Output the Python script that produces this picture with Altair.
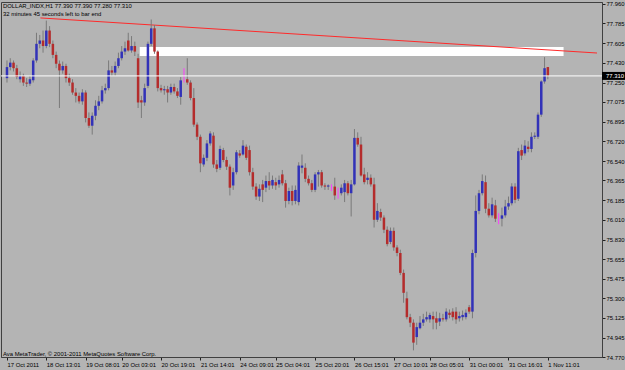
import json
import altair as alt
import pandas as pd

# ---- candle data (DOLLAR_INDX, H1) ----
OPEN = [77.29, 77.39, 77.43, 77.38, 77.28, 77.31, 77.25, 77.24, 77.27, 77.45,
        77.60, 77.63, 77.58, 77.72, 77.60, 77.50, 77.42, 77.36, 77.40, 77.29,
        77.25, 77.16, 77.13, 77.08, 77.16, 76.93, 76.86, 76.95, 77.04, 77.08,
        77.18, 77.20, 77.36, 77.34, 77.40, 77.47, 77.53, 77.63, 77.54, 77.58,
        77.47, 77.09, 77.07, 77.22, 77.60, 77.74, 77.53, 77.20, 77.18, 77.19,
        77.16, 77.21, 77.17, 77.12, 77.29, 77.28, 77.25, 77.11, 76.87, 76.76,
        76.51, 76.57, 76.70, 76.77, 76.51, 76.48, 76.64, 76.55, 76.49, 76.32,
        76.44, 76.61, 76.60, 76.67, 76.64, 76.44, 76.31, 76.22, 76.33, 76.30,
        76.36, 76.32, 76.35, 76.33, 76.42, 76.34, 76.18, 76.27, 76.18, 76.17,
        76.48, 76.48, 76.38, 76.34, 76.28, 76.42, 76.44, 76.32, 76.31, 76.31,
        76.31, 76.24, 76.25, 76.26, 76.34, 76.25, 76.33, 76.75, 76.69, 76.42,
        76.37, 76.39, 76.33, 76.01, 76.08, 76.03, 75.92, 75.81, 75.91, 75.76,
        75.71, 75.53, 75.30, 75.13, 75.08, 74.95, 75.03, 75.08, 75.11, 75.11,
        75.14, 75.12, 75.09, 75.12, 75.11, 75.17, 75.18, 75.18, 75.12, 75.13,
        75.13, 75.22, 75.18, 75.71, 76.09, 76.25, 76.35, 76.11, 76.05, 76.14,
        76.02, 76.02, 76.05, 76.13, 76.16, 76.31, 76.20, 76.64, 76.61, 76.67,
        76.65, 76.76, 76.76, 76.96, 77.26, 77.39]

HIGH = [77.45, 77.47, 77.45, 77.41, 77.35, 77.33, 77.29, 77.31, 77.47, 77.70,
        77.68, 77.72, 77.81, 77.76, 77.63, 77.53, 77.45, 77.44, 77.42, 77.33,
        77.28, 77.20, 77.16, 77.19, 77.18, 76.98, 76.98, 77.09, 77.13, 77.22,
        77.24, 77.45, 77.40, 77.44, 77.52, 77.58, 77.62, 77.70, 77.67, 77.62,
        77.51, 77.13, 77.24, 77.62, 77.82, 77.77, 77.54, 77.23, 77.22, 77.22,
        77.24, 77.24, 77.20, 77.30, 77.38, 77.47, 77.27, 77.20, 76.89, 76.78,
        76.60, 76.73, 76.81, 76.80, 76.55, 76.68, 76.66, 76.58, 76.51, 76.48,
        76.64, 76.64, 76.73, 76.69, 76.68, 76.48, 76.34, 76.33, 76.37, 76.41,
        76.44, 76.41, 76.39, 76.41, 76.46, 76.37, 76.30, 76.32, 76.32, 76.53,
        76.60, 76.52, 76.41, 76.37, 76.44, 76.46, 76.46, 76.34, 76.33, 76.33,
        76.39, 76.30, 76.33, 76.37, 76.36, 76.37, 76.83, 76.80, 76.76, 76.48,
        76.44, 76.42, 76.39, 76.16, 76.11, 76.05, 75.95, 75.94, 75.94, 75.78,
        75.74, 75.56, 75.36, 75.16, 75.11, 75.08, 75.14, 75.16, 75.18, 75.17,
        75.18, 75.18, 75.17, 75.16, 75.21, 75.20, 75.21, 75.22, 75.18, 75.19,
        75.20, 75.24, 75.74, 76.23, 76.28, 76.42, 76.41, 76.16, 76.21, 76.19,
        76.07, 76.12, 76.19, 76.22, 76.34, 76.34, 76.66, 76.69, 76.73, 76.72,
        76.80, 76.80, 76.98, 77.27, 77.48, 77.39]

LOW = [77.25, 77.36, 77.35, 77.28, 77.25, 77.22, 77.21, 77.22, 77.25, 77.43,
       77.56, 77.52, 77.56, 77.57, 77.47, 77.38, 77.02, 77.33, 77.25, 77.22,
       77.14, 77.07, 77.06, 77.05, 76.89, 76.84, 76.78, 76.91, 77.00, 77.06,
       77.15, 77.18, 77.31, 77.31, 77.38, 77.45, 77.50, 77.53, 77.52, 77.49,
       77.02, 76.93, 77.04, 77.20, 77.58, 77.51, 77.17, 77.16, 77.14, 77.07,
       77.14, 77.15, 77.11, 77.05, 77.25, 77.23, 77.09, 76.85, 76.73, 76.44,
       76.49, 76.54, 76.68, 76.48, 76.44, 76.46, 76.53, 76.46, 76.23, 76.28,
       76.42, 76.57, 76.59, 76.55, 76.41, 76.28, 76.19, 76.18, 76.17, 76.26,
       76.28, 76.29, 76.28, 76.30, 76.32, 76.12, 76.15, 76.14, 76.15, 76.14,
       76.43, 76.35, 76.32, 76.26, 76.26, 76.31, 76.30, 76.28, 76.28, 76.27,
       76.19, 76.20, 76.23, 76.17, 76.23, 76.04, 76.32, 76.67, 76.40, 76.33,
       76.33, 76.31, 75.94, 75.99, 76.00, 75.89, 75.77, 75.79, 75.73, 75.68,
       75.51, 75.26, 75.11, 75.04, 74.83, 74.88, 75.02, 75.05, 75.09, 75.08,
       75.02, 75.02, 75.05, 75.09, 75.09, 75.12, 75.10, 75.07, 75.09, 75.10,
       75.11, 75.16, 75.12, 75.67, 76.06, 76.23, 76.07, 76.03, 76.03, 75.99,
       75.97, 75.95, 76.03, 76.10, 76.14, 76.16, 76.18, 76.55, 76.59, 76.62,
       76.62, 76.74, 76.74, 76.94, 77.24, 77.28]

CLOSE = [77.39, 77.43, 77.38, 77.30, 77.31, 77.25, 77.24, 77.28, 77.45, 77.60,
         77.63, 77.58, 77.72, 77.60, 77.50, 77.42, 77.36, 77.40, 77.29, 77.25,
         77.16, 77.13, 77.08, 77.16, 76.93, 76.86, 76.95, 77.04, 77.08, 77.18,
         77.20, 77.36, 77.34, 77.40, 77.47, 77.53, 77.56, 77.54, 77.58, 77.53,
         77.07, 77.07, 77.20, 77.60, 77.74, 77.53, 77.20, 77.18, 77.19, 77.16,
         77.21, 77.17, 77.13, 77.27, 77.29, 77.25, 77.11, 76.87, 76.76, 76.52,
         76.57, 76.70, 76.79, 76.51, 76.47, 76.65, 76.55, 76.49, 76.30, 76.44,
         76.62, 76.59, 76.68, 76.57, 76.44, 76.31, 76.22, 76.29, 76.28, 76.36,
         76.32, 76.37, 76.32, 76.37, 76.34, 76.18, 76.27, 76.18, 76.28, 76.50,
         76.50, 76.38, 76.34, 76.28, 76.42, 76.44, 76.32, 76.31, 76.32, 76.31,
         76.23, 76.24, 76.30, 76.34, 76.25, 76.33, 76.75, 76.69, 76.41, 76.35,
         76.39, 76.33, 76.01, 76.09, 76.03, 75.92, 75.79, 75.91, 75.76, 75.71,
         75.53, 75.35, 75.13, 75.08, 74.90, 75.04, 75.08, 75.11, 75.13, 75.15,
         75.11, 75.08, 75.12, 75.11, 75.18, 75.15, 75.13, 75.11, 75.14, 75.15,
         75.17, 75.18, 75.71, 76.09, 76.25, 76.36, 76.11, 76.05, 76.15, 76.02,
         76.02, 76.05, 76.13, 76.16, 76.31, 76.19, 76.63, 76.59, 76.68, 76.65,
         76.76, 76.77, 76.96, 77.26, 77.38, 77.31]

# ---- axes ----
TICK_BARS = [0, 12, 24, 35, 47, 59, 71, 82, 94, 106, 118, 129, 141, 153, 165]
TICK_LABELS = ["17 Oct 2011", "18 Oct 13:01", "19 Oct 08:01", "20 Oct 03:01",
               "20 Oct 19:01", "21 Oct 14:01", "24 Oct 09:01", "25 Oct 04:01",
               "25 Oct 20:01", "26 Oct 15:01", "27 Oct 10:01", "28 Oct 05:01",
               "31 Oct 00:01", "31 Oct 16:01", "1 Nov 11:01"]
PRICE_TICKS = [77.960, 77.785, 77.605, 77.430, 77.250, 77.075, 76.895, 76.720,
               76.540, 76.365, 76.185, 76.010, 75.830, 75.655, 75.475, 75.300,
               75.125, 74.945, 74.770]

# ---- chart objects ----
BID = [77.310]
TREND_BAR = [10.2, 180.0]
TREND_PRICE = [77.834, 77.517]
RECT_BAR = [40.5, 169.8]
RECT_PRICE = [77.490, 77.571]

HEADER_1 = "DOLLAR_INDX,H1  77.390 77.390 77.280 77.310"
HEADER_2 = "32 minutes 45 seconds left to bar end"
FOOTER = "Ava MetaTrader, \u00a9 2001-2011 MetaQuotes Software Corp."

FONT = "Liberation Sans"
FS = 5.9
BG = "#b4b4b4"

n = len(CLOSE)
df = pd.DataFrame({"i": list(range(n)), "open": OPEN, "high": HIGH,
                   "low": LOW, "close": CLOSE})
df["dir"] = ["up" if c > o else ("down" if c < o else "doji")
             for o, c in zip(OPEN, CLOSE)]

xs = alt.Scale(domain=[-0.3, 180], nice=False, zero=False)
ys = alt.Scale(domain=[74.77, 77.978], nice=False, zero=False)

label_expr = "{}[indexof({}, datum.value)]".format(json.dumps(TICK_LABELS),
                                                   json.dumps(TICK_BARS))

XA = alt.Axis(values=TICK_BARS, labelExpr=label_expr, grid=False,
              tickSize=3, labelAlign="left", labelPadding=1,
              labelFlush=False, labelOverlap=False, labelFont=FONT,
              labelFontSize=FS, labelColor="black", domainColor="#404040",
              tickColor="#202020", title=None, labelBaseline="top")
YA = alt.Axis(values=PRICE_TICKS, format=".3f", orient="right", grid=False,
              tickSize=3, labelPadding=1, labelAlign="left", labelFont=FONT,
              labelFontSize=FS, labelColor="black", domainColor="#404040",
              tickColor="#202020", title=None, labelFlush=False,
              labelOverlap=False)

base = alt.Chart(df)

rect_df = pd.DataFrame({"x1": [RECT_BAR[0]], "x2": [RECT_BAR[1]],
                        "y1": [RECT_PRICE[0]], "y2": [RECT_PRICE[1]]})
white_rect = alt.Chart(rect_df).mark_rect(color="white").encode(
    x=alt.X("x1:Q", scale=xs, axis=XA), x2="x2:Q",
    y=alt.Y("y1:Q", scale=ys, axis=YA), y2="y2:Q")

wicks = base.mark_rule(strokeWidth=1).encode(
    x=alt.X("i:Q", scale=xs, axis=XA),
    y=alt.Y("low:Q", scale=ys, axis=YA),
    y2="high:Q",
    color=alt.condition(alt.datum.dir == "doji", alt.value("#ff3cff"),
                        alt.value("#7a7a7a")))

bodies = base.transform_filter(alt.datum.dir != "doji").mark_bar(size=2.5).encode(
    x=alt.X("i:Q", scale=xs, axis=XA),
    y=alt.Y("open:Q", scale=ys, axis=YA),
    y2="close:Q",
    color=alt.Color("dir:N", scale=alt.Scale(domain=["up", "down"],
                                             range=["#3232b8", "#b42c2c"]),
                    legend=None))

bid_df = pd.DataFrame({"p": BID})
bid_line = alt.Chart(bid_df).mark_rule(color="white", strokeWidth=1).encode(
    y=alt.Y("p:Q", scale=ys, axis=YA))

trend_df = pd.DataFrame({"b": TREND_BAR, "p": TREND_PRICE})
trend = alt.Chart(trend_df).mark_line(color="#ff2a2a", strokeWidth=1,
                                      clip=True).encode(
    x=alt.X("b:Q", scale=xs, axis=XA), y=alt.Y("p:Q", scale=ys, axis=YA))

box = alt.Chart(bid_df).transform_calculate(
    top="datum.p + 0.036", bot="datum.p - 0.036").mark_rect(color="black").encode(
    x=alt.value(601), x2=alt.value(624),
    y=alt.Y("top:Q", scale=ys, axis=YA), y2="bot:Q")
box_text = alt.Chart(bid_df).mark_text(
    color="white", align="left", baseline="middle", font=FONT, fontSize=FS
).encode(
    x=alt.value(605), y=alt.Y("p:Q", scale=ys, axis=YA),
    text=alt.Text("p:Q", format=".3f"))

txt = pd.DataFrame({"t": [HEADER_1, HEADER_2, FOOTER], "k": [0, 1, 2]})
header1 = alt.Chart(txt).transform_filter(alt.datum.k == 0).mark_text(
    align="left", baseline="middle", font=FONT, fontSize=FS, color="black").encode(
    x=alt.value(2), y=alt.value(4), text="t:N")
header2 = alt.Chart(txt).transform_filter(alt.datum.k == 1).mark_text(
    align="left", baseline="middle", font=FONT, fontSize=FS, color="black").encode(
    x=alt.value(2), y=alt.value(11.5), text="t:N")
footer = alt.Chart(txt).transform_filter(alt.datum.k == 2).mark_text(
    align="left", baseline="middle", font=FONT, fontSize=FS, color="black").encode(
    x=alt.value(2), y=alt.value(351.5), text="t:N")

chart = alt.layer(white_rect, trend, wicks, bodies, bid_line, box, box_text,
                  header1, header2, footer).properties(
    width=601, height=355,
    autosize=alt.AutoSizeParams(type="none"),
    padding={"left": 1, "top": 2, "right": 23, "bottom": 13},
    background=BG,
).configure_view(stroke="#404040", strokeWidth=1, fill=BG)

chart.save("out.html", embed_options={"renderer": "svg", "actions": False})
